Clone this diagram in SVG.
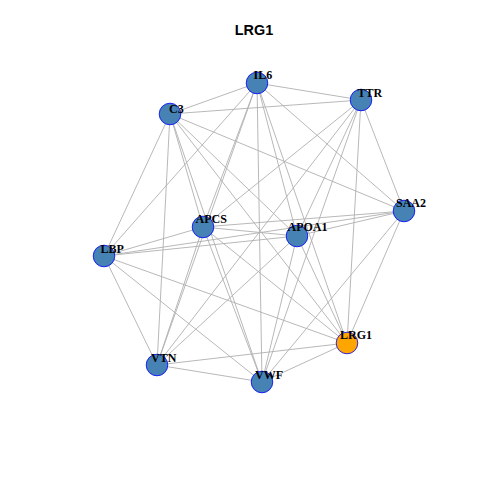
<svg xmlns="http://www.w3.org/2000/svg" width="480" height="480" viewBox="0 0 480 480">
<style>
.e{stroke:#b0b0b0;stroke-width:0.9;fill:none}
.n{fill:#4682B4;stroke:#0000FF;stroke-width:0.8}
.hl{fill:#FFA500;stroke:#0000FF;stroke-width:0.8}
.l{font-family:"Liberation Serif","Times New Roman",serif;font-weight:bold;font-size:12px;fill:#000}
.t{font-family:"Liberation Sans",Arial,sans-serif;font-weight:bold;font-size:14.4px;fill:#000}
</style>
<rect width="480" height="480" fill="#fff"/>
<text class="t" x="254" y="35" text-anchor="middle">LRG1</text>
<g id="edges">
<line class="e" x1="257" y1="83" x2="361" y2="100"/>
<line class="e" x1="257" y1="83" x2="170" y2="114"/>
<line class="e" x1="257" y1="83" x2="404" y2="211"/>
<line class="e" x1="257" y1="83" x2="203" y2="227"/>
<line class="e" x1="257" y1="83" x2="297" y2="236"/>
<line class="e" x1="257" y1="83" x2="104" y2="256"/>
<line class="e" x1="257" y1="83" x2="347" y2="343"/>
<line class="e" x1="257" y1="83" x2="157" y2="365"/>
<line class="e" x1="257" y1="83" x2="262" y2="382"/>
<line class="e" x1="361" y1="100" x2="170" y2="114"/>
<line class="e" x1="361" y1="100" x2="404" y2="211"/>
<line class="e" x1="361" y1="100" x2="203" y2="227"/>
<line class="e" x1="361" y1="100" x2="297" y2="236"/>
<line class="e" x1="361" y1="100" x2="347" y2="343"/>
<line class="e" x1="361" y1="100" x2="157" y2="365"/>
<line class="e" x1="361" y1="100" x2="262" y2="382"/>
<line class="e" x1="170" y1="114" x2="404" y2="211"/>
<line class="e" x1="170" y1="114" x2="203" y2="227"/>
<line class="e" x1="170" y1="114" x2="297" y2="236"/>
<line class="e" x1="170" y1="114" x2="104" y2="256"/>
<line class="e" x1="170" y1="114" x2="347" y2="343"/>
<line class="e" x1="170" y1="114" x2="157" y2="365"/>
<line class="e" x1="170" y1="114" x2="262" y2="382"/>
<line class="e" x1="404" y1="211" x2="203" y2="227"/>
<line class="e" x1="404" y1="211" x2="297" y2="236"/>
<line class="e" x1="404" y1="211" x2="104" y2="256"/>
<line class="e" x1="404" y1="211" x2="347" y2="343"/>
<line class="e" x1="404" y1="211" x2="262" y2="382"/>
<line class="e" x1="203" y1="227" x2="297" y2="236"/>
<line class="e" x1="203" y1="227" x2="104" y2="256"/>
<line class="e" x1="203" y1="227" x2="347" y2="343"/>
<line class="e" x1="203" y1="227" x2="157" y2="365"/>
<line class="e" x1="203" y1="227" x2="262" y2="382"/>
<line class="e" x1="297" y1="236" x2="104" y2="256"/>
<line class="e" x1="297" y1="236" x2="347" y2="343"/>
<line class="e" x1="297" y1="236" x2="157" y2="365"/>
<line class="e" x1="297" y1="236" x2="262" y2="382"/>
<line class="e" x1="104" y1="256" x2="347" y2="343"/>
<line class="e" x1="104" y1="256" x2="157" y2="365"/>
<line class="e" x1="104" y1="256" x2="262" y2="382"/>
<line class="e" x1="347" y1="343" x2="157" y2="365"/>
<line class="e" x1="347" y1="343" x2="262" y2="382"/>
<line class="e" x1="157" y1="365" x2="262" y2="382"/>
</g>
<g id="IL6"><circle class="n" cx="257" cy="83" r="10.8"/><text class="l" x="253.5" y="79">IL6</text></g>
<g id="TTR"><circle class="n" cx="361" cy="100" r="10.8"/><text class="l" x="357.5" y="96.5">TTR</text></g>
<g id="C3"><circle class="n" cx="170" cy="114" r="10.8"/><text class="l" x="169" y="113">C3</text></g>
<g id="SAA2"><circle class="n" cx="404" cy="211" r="10.8"/><text class="l" x="396" y="207">SAA2</text></g>
<g id="APCS"><circle class="n" cx="203" cy="227" r="10.8"/><text class="l" x="195.5" y="223">APCS</text></g>
<g id="APOA1"><circle class="n" cx="297" cy="236" r="10.8"/><text class="l" x="287.5" y="230.5">APOA1</text></g>
<g id="LBP"><circle class="n" cx="104" cy="256" r="10.8"/><text class="l" x="100.5" y="252.5">LBP</text></g>
<g id="LRG1"><circle class="hl" cx="347" cy="343" r="10.8"/><text class="l" x="340" y="338.5">LRG1</text></g>
<g id="VTN"><circle class="n" cx="157" cy="365" r="10.8"/><text class="l" x="151" y="362">VTN</text></g>
<g id="VWF"><circle class="n" cx="262" cy="382" r="10.8"/><text class="l" x="255" y="378.5">VWF</text></g>
</svg>
